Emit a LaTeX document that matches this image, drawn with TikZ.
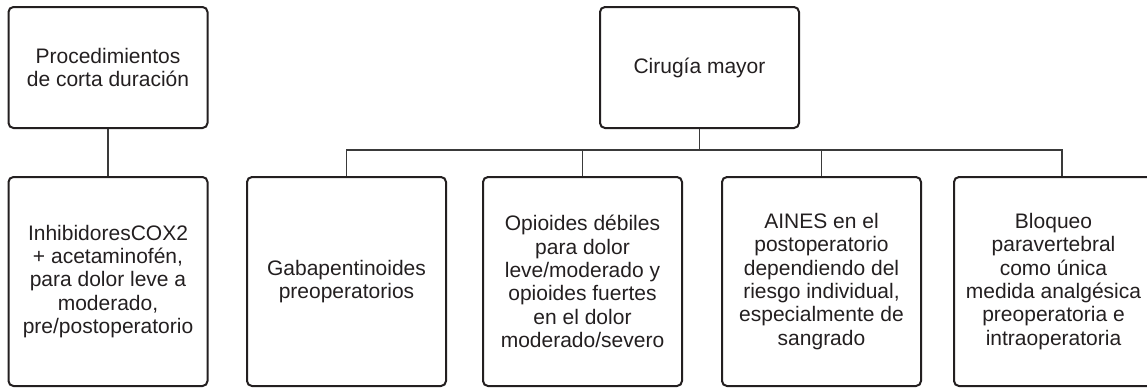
\documentclass[tikz,border=0pt]{standalone}
\usepackage{fontspec}
\setmainfont{Liberation Sans}
\usepackage{xcolor}
\usetikzlibrary{positioning,calc}
\definecolor{boxline}{HTML}{231F20}
\definecolor{linkgray}{HTML}{3A3A3A}

\begin{document}
\begin{tikzpicture}[x=1pt,y=-1pt,
            box/.style={draw=boxline,rounded corners=5pt,line width=2pt,align=center,
                minimum width=199pt,text=boxline,font=\fontsize{21pt}{23.3pt}\selectfont},
            top box/.style={box,minimum height=121pt},
            low box/.style={box,minimum height=209pt},
            link/.style={draw=linkgray,line width=1.2pt}]

        \useasboundingbox (0,0) rectangle (1147,388);

        \node[top box] (short) at (108,67.5) {Procedimientos\\de corta duración};
        \node[low box] (cox) [below=47pt of short] {InhibidoresCOX2\\+ acetaminofén,\\para dolor leve a\\moderado,\\pre/postoperatorio};

        \node[top box] (major) at (699.5,67.5) {Cirugía mayor};
        \node[low box] (gaba) at (346.5,281.5) {Gabapentinoides\\preoperatorios};
        \node[low box] (opio) at (582.5,281.5) {Opioides débiles\\para dolor\\leve/moderado y\\opioides fuertes\\en el dolor\\moderado/severo};
        \node[low box] (aines) at (821.5,281.5) {AINES en el\\postoperatorio\\dependiendo del\\riesgo individual,\\especialmente de\\sangrado};
        \node[low box] (bloq) at (1053.5,281.5) {Bloqueo\\paravertebral\\como única\\medida analgésica\\preoperatoria e\\intraoperatoria};

        \coordinate (hub) at ($(major.south)+(0,21)$);
        \coordinate (bloqtop) at ($(bloq.north)+(8.5,0)$);

        \path[link] (short) -- (cox);
        \path[link] (major) -- (hub);
        \path[link] (gaba.north) |- (hub) -| (bloqtop);
        \foreach \n in {opio,aines}
            \path[link] (\n.north) -- (\n.north |- hub);

    \end{tikzpicture}
\end{document}
